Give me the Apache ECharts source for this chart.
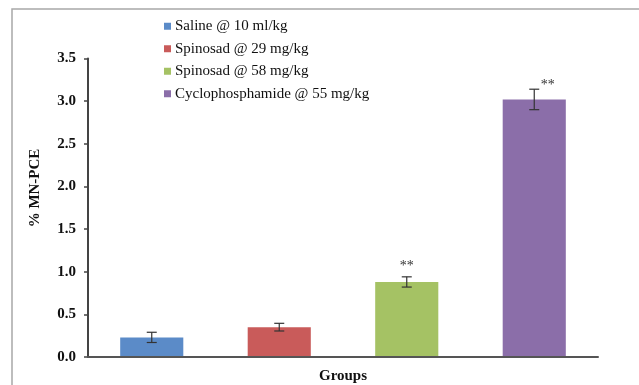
<!DOCTYPE html>
<html><head><meta charset="utf-8">
<script src="https://cdn.jsdelivr.net/npm/echarts@6/dist/echarts.min.js"></script>
<style>html,body{margin:0;padding:0;background:#fff}#c{width:639px;height:385px}</style>
</head><body><div id="c"></div>
<script>
const groups = ['Saline @ 10 ml/kg', 'Spinosad @ 29 mg/kg', 'Spinosad @ 58 mg/kg', 'Cyclophosphamide @ 55 mg/kg'];
const means = [0.23, 0.35, 0.88, 3.02];
const errors = [0.06, 0.045, 0.06, 0.12];
const marks = ['', '', '**', '**'];
const colors = ['#5B8BC8', '#C95B5A', '#A5C264', '#8B6EA9'];
const yTicks = [0, 0.5, 1.0, 1.5, 2.0, 2.5, 3.0, 3.5];

const FONT = '"Liberation Serif", "Times New Roman", serif';
const chart = echarts.init(document.getElementById('c'), null, {renderer: 'canvas'});

const barSeries = groups.map((g, i) => ({
  name: g,
  type: 'bar',
  barWidth: '49.5%',
  barGap: '-100%',
  itemStyle: {color: colors[i]},
  data: groups.map((_, j) => j === i ? means[j] : '-'),
  z: 2
}));

const errSeries = {
  type: 'custom',
  z: 5,
  data: groups.map((g, i) => [i, means[i], errors[i], marks[i]]),
  renderItem: function (params, api) {
    const i = api.value(0), m = api.value(1), e = api.value(2);
    const top = api.coord([i, m + e]);
    const bot = api.coord([i, m - e]);
    const hw = 5;
    const st = {stroke: '#333', lineWidth: 1.2};
    const children = [
      {type: 'line', shape: {x1: top[0], y1: top[1], x2: bot[0], y2: bot[1]}, style: st},
      {type: 'line', shape: {x1: top[0] - hw, y1: top[1], x2: top[0] + hw, y2: top[1]}, style: st},
      {type: 'line', shape: {x1: bot[0] - hw, y1: bot[1], x2: bot[0] + hw, y2: bot[1]}, style: st}
    ];
    const mk = marks[params.dataIndex];
    if (mk) {
      const last = params.dataIndex === groups.length - 1;
      children.push({
        type: 'text',
        style: {
          text: mk, x: top[0] + (last ? 13.5 : 0), y: top[1] - (last ? 4 : 11),
          textAlign: 'center', textVerticalAlign: 'middle',
          font: '14px ' + FONT, fill: '#333'
        }
      });
    }
    return {type: 'group', children: children};
  }
};

chart.setOption({
  animation: false,
  backgroundColor: '#fff',
  textStyle: {fontFamily: FONT},
  grid: {left: 88, right: 41, top: 58.5, bottom: 28, containLabel: false, outerBoundsMode: 'none'},
  legend: {
    orient: 'vertical',
    left: 159, top: 13,
    itemWidth: 7, itemHeight: 7,
    itemGap: 6,
    icon: 'rect',
    data: groups,
    textStyle: {fontFamily: FONT, fontSize: 15, color: '#111', lineHeight: 16.5, padding: [0, 0, 0, -1]}
  },
  xAxis: {
    type: 'category',
    data: groups,
    z: 4,
    name: 'Groups',
    nameLocation: 'middle',
    nameGap: 12,
    nameTextStyle: {fontFamily: FONT, fontSize: 15, fontWeight: 'bold', color: '#111'},
    axisLine: {lineStyle: {color: '#555', width: 2}},
    axisTick: {show: false},
    axisLabel: {show: false},
    splitLine: {show: false}
  },
  yAxis: {
    type: 'value',
    min: yTicks[0], max: yTicks[yTicks.length - 1], interval: 0.5,
    axisLine: {show: true, lineStyle: {color: '#444', width: 2}},
    axisTick: {show: true, length: 4, lineStyle: {color: '#444', width: 1.5}},
    axisLabel: {
      margin: 12, fontFamily: FONT, fontSize: 15, fontWeight: 'bold', color: '#111',
      formatter: v => v.toFixed(1)
    },
    splitLine: {show: false}
  },
  graphic: [
    {type: 'rect', shape: {x: 12, y: 9, width: 800, height: 600}, style: {fill: 'none', stroke: '#A8A8A8', lineWidth: 1.5}, silent: true},
    {type: 'text', x: 35, y: 188, rotation: Math.PI / 2,
     style: {text: '% MN-PCE', font: 'bold 15px ' + FONT, fill: '#111', textAlign: 'center', textVerticalAlign: 'middle'}}
  ],
  series: barSeries.concat([errSeries])
});
</script></body></html>
